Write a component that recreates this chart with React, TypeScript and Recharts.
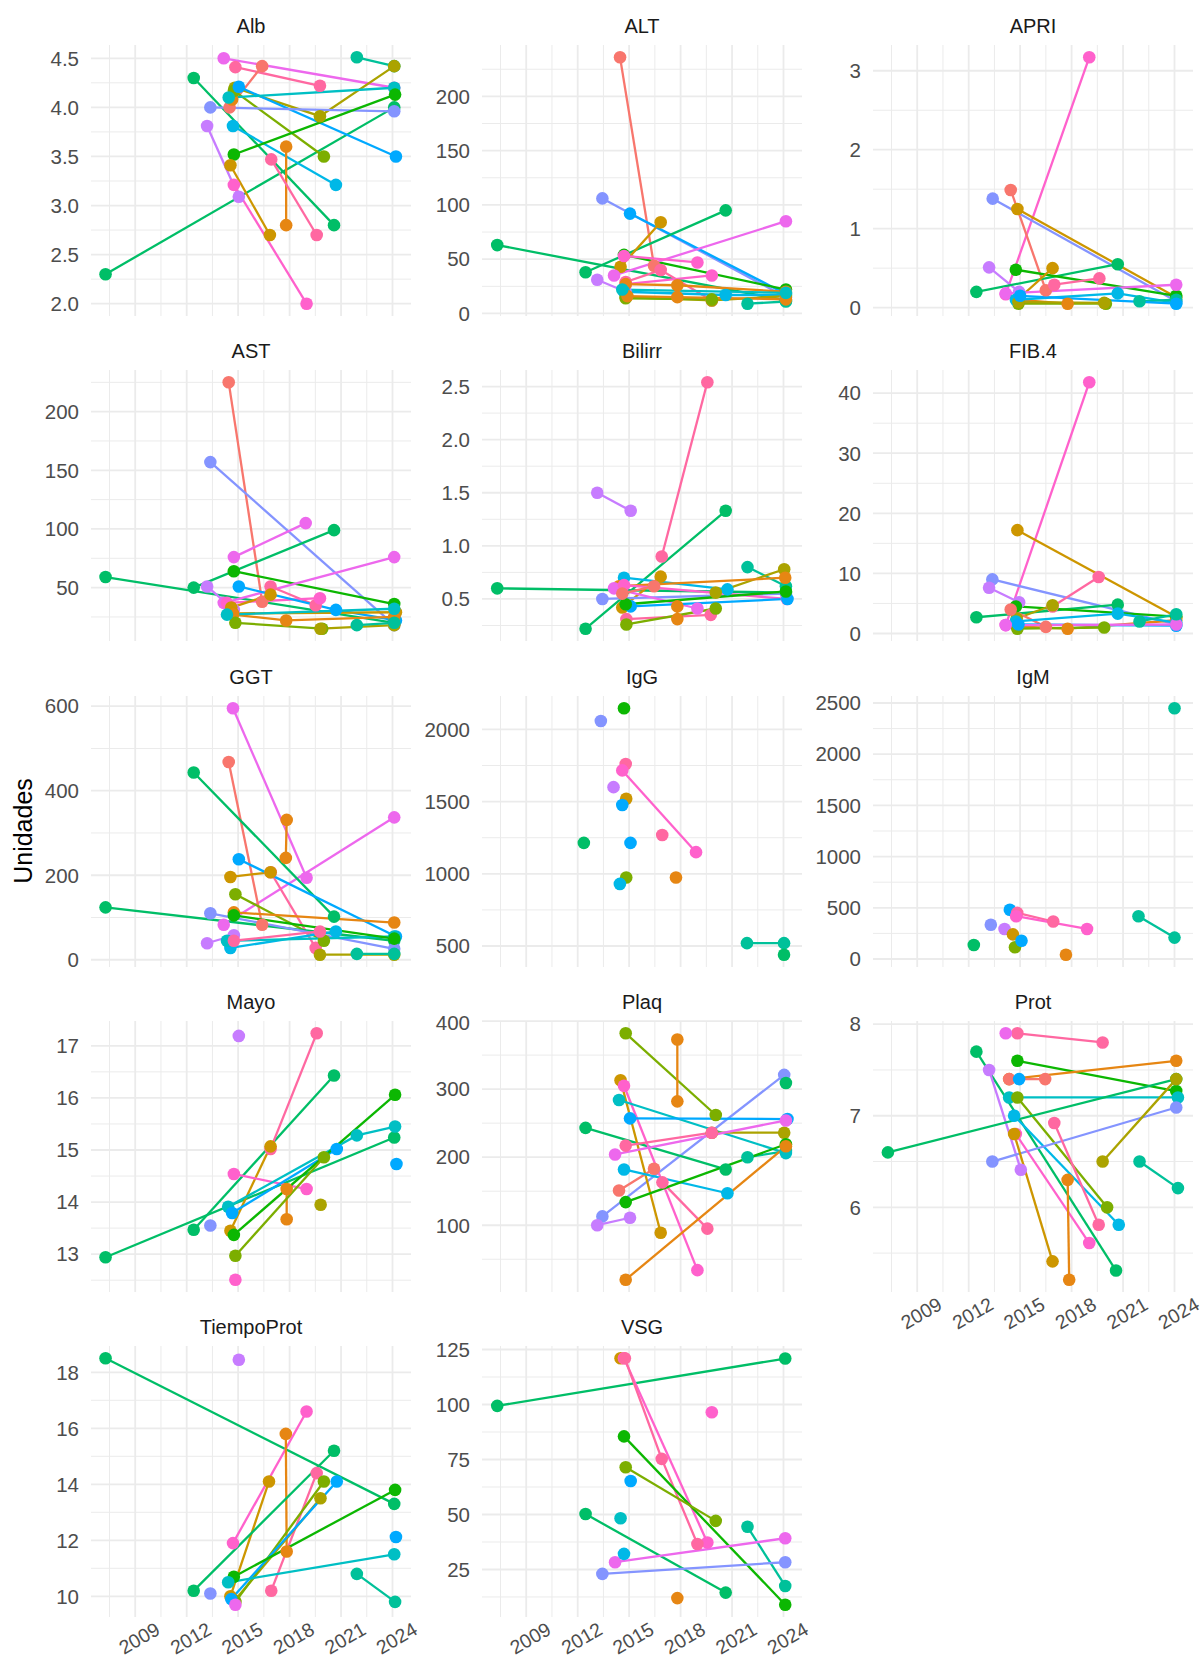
import React from 'react';
import { ScatterChart, Scatter, XAxis, YAxis, CartesianGrid } from 'recharts';

// ggplot2 default hue palette, 16 levels
const PALETTE = [
  '#F8766D', '#E68613', '#CD9600', '#ABA300', '#7CAE00', '#0CB702', '#00BE67', '#00C19A',
  '#00BFC4', '#00B8E7', '#00A9FF', '#8494FF', '#C77CFF', '#ED68ED', '#FF61CC', '#FF68A1',
];

type Pt = [number, number];
type Series = { c: number; p: Pt[] };

// one entry per patient: colour index + [year, value] visits
const albData: Series[] = [
  { c: 7, p: [[2021.92, 4.51], [2024.1, 4.42]] },
  { c: 13, p: [[2014.16, 4.5], [2024.1, 4.2]] },
  { c: 15, p: [[2014.84, 4.41], [2019.77, 4.22]] },
  { c: 0, p: [[2014.5, 4.0], [2016.4, 4.42]] },
  { c: 1, p: [[2014.65, 4.08]] },
  { c: 6, p: [[2012.41, 4.3], [2020.59, 2.8]] },
  { c: 6, p: [[2007.27, 2.3], [2024.1, 4.0]] },
  { c: 3, p: [[2014.8, 4.2], [2019.77, 3.91], [2024.1, 4.42]] },
  { c: 4, p: [[2014.75, 4.17], [2020.0, 3.5]] },
  { c: 10, p: [[2015.04, 4.21], [2024.2, 3.5]] },
  { c: 8, p: [[2014.45, 4.1], [2024.1, 4.2]] },
  { c: 9, p: [[2014.7, 3.81], [2020.7, 3.21]] },
  { c: 11, p: [[2013.38, 4.0], [2024.1, 3.96]] },
  { c: 12, p: [[2013.19, 3.81], [2015.04, 3.09]] },
  { c: 14, p: [[2014.75, 3.21], [2018.99, 2.0]] },
  { c: 5, p: [[2014.75, 3.52], [2024.15, 4.13]] },
  { c: 2, p: [[2014.55, 3.41], [2016.85, 2.7]] },
  { c: 1, p: [[2017.8, 3.6], [2017.8, 2.8]] },
  { c: 15, p: [[2016.93, 3.47], [2019.58, 2.7]] },
];

const altData: Series[] = [
  { c: 0, p: [[2014.47, 236], [2016.45, 44]] },
  { c: 11, p: [[2013.44, 106], [2024.14, 15]] },
  { c: 10, p: [[2015.05, 92], [2024.14, 18]] },
  { c: 6, p: [[2007.31, 63], [2024.14, 12]] },
  { c: 6, p: [[2012.46, 38], [2020.63, 95]] },
  { c: 5, p: [[2014.7, 54], [2024.14, 22]] },
  { c: 2, p: [[2014.5, 43], [2016.84, 84]] },
  { c: 13, p: [[2014.12, 35], [2024.14, 85]] },
  { c: 14, p: [[2014.7, 53], [2018.98, 47]] },
  { c: 12, p: [[2013.14, 31], [2014.8, 20]] },
  { c: 15, p: [[2014.8, 29], [2016.84, 40], [2019.82, 12]] },
  { c: 14, p: [[2014.8, 27], [2019.82, 35]] },
  { c: 1, p: [[2014.8, 27], [2017.81, 26], [2024.14, 20]] },
  { c: 9, p: [[2014.7, 20], [2020.63, 17], [2024.14, 17]] },
  { c: 7, p: [[2021.9, 9], [2024.14, 11]] },
  { c: 3, p: [[2014.8, 15], [2019.82, 12], [2024.14, 16]] },
  { c: 4, p: [[2014.8, 14], [2019.82, 13]] },
  { c: 1, p: [[2014.9, 16], [2017.81, 15], [2024.14, 13]] },
  { c: 8, p: [[2014.6, 22], [2024.14, 19]] },
];

const apriData: Series[] = [
  { c: 14, p: [[2014.16, 0.17], [2019.03, 3.17]] },
  { c: 0, p: [[2014.45, 1.49], [2016.5, 0.22]] },
  { c: 11, p: [[2013.4, 1.38], [2024.1, 0.08]] },
  { c: 2, p: [[2014.84, 1.25], [2024.1, 0.13]] },
  { c: 12, p: [[2013.19, 0.51], [2014.94, 0.2]] },
  { c: 6, p: [[2012.45, 0.2], [2020.69, 0.55]] },
  { c: 5, p: [[2014.75, 0.48], [2024.1, 0.15]] },
  { c: 2, p: [[2014.84, 0.1], [2016.89, 0.5]] },
  { c: 15, p: [[2016.99, 0.29], [2019.62, 0.37]] },
  { c: 13, p: [[2014.16, 0.18], [2024.1, 0.29]] },
  { c: 1, p: [[2014.8, 0.1], [2017.77, 0.05]] },
  { c: 4, p: [[2014.9, 0.05], [2020.0, 0.05]] },
  { c: 9, p: [[2014.75, 0.1], [2020.69, 0.18], [2024.1, 0.06]] },
  { c: 7, p: [[2021.96, 0.08], [2024.1, 0.1]] },
  { c: 3, p: [[2014.9, 0.07], [2019.9, 0.06]] },
  { c: 10, p: [[2015.0, 0.15], [2024.1, 0.05]] },
];

const astData: Series[] = [
  { c: 0, p: [[2014.45, 225], [2016.4, 38]] },
  { c: 11, p: [[2013.38, 157], [2024.1, 18]] },
  { c: 13, p: [[2014.75, 76], [2018.94, 105]] },
  { c: 6, p: [[2012.41, 50], [2020.59, 99]] },
  { c: 5, p: [[2014.75, 64], [2024.1, 36]] },
  { c: 6, p: [[2007.27, 59], [2024.1, 20]] },
  { c: 13, p: [[2014.16, 37], [2024.1, 76]] },
  { c: 15, p: [[2016.89, 51], [2019.52, 35]] },
  { c: 14, p: [[2014.35, 37], [2019.77, 41]] },
  { c: 12, p: [[2013.19, 51], [2014.75, 31]] },
  { c: 10, p: [[2015.04, 51], [2020.7, 31], [2024.2, 22]] },
  { c: 2, p: [[2014.6, 33], [2016.89, 44]] },
  { c: 2, p: [[2014.7, 28], [2024.2, 29]] },
  { c: 1, p: [[2014.7, 27], [2017.8, 22], [2024.1, 25]] },
  { c: 4, p: [[2014.84, 20], [2019.9, 15]] },
  { c: 3, p: [[2019.8, 15], [2024.1, 18]] },
  { c: 7, p: [[2021.92, 18], [2024.1, 20]] },
  { c: 8, p: [[2014.35, 27], [2024.1, 32]] },
];

const bilirrData: Series[] = [
  { c: 15, p: [[2016.9, 0.9], [2019.56, 2.54]] },
  { c: 12, p: [[2013.14, 1.5], [2015.09, 1.33]] },
  { c: 6, p: [[2012.46, 0.22], [2020.63, 1.33]] },
  { c: 6, p: [[2007.31, 0.6], [2024.14, 0.56]] },
  { c: 7, p: [[2021.9, 0.8], [2024.14, 0.62]] },
  { c: 9, p: [[2014.7, 0.7], [2020.73, 0.59]] },
  { c: 2, p: [[2014.6, 0.42], [2016.84, 0.71]] },
  { c: 3, p: [[2020.05, 0.56], [2024.04, 0.78]] },
  { c: 1, p: [[2014.41, 0.62], [2024.1, 0.7]] },
  { c: 11, p: [[2013.44, 0.5], [2024.14, 0.55]] },
  { c: 13, p: [[2014.12, 0.6], [2018.98, 0.41]] },
  { c: 14, p: [[2014.7, 0.63], [2024.2, 0.5]] },
  { c: 10, p: [[2015.09, 0.43], [2024.23, 0.5]] },
  { c: 1, p: [[2017.81, 0.43], [2017.81, 0.31]] },
  { c: 15, p: [[2014.84, 0.31], [2019.76, 0.35]] },
  { c: 4, p: [[2014.84, 0.26], [2020.05, 0.41]] },
  { c: 5, p: [[2014.8, 0.45], [2024.14, 0.57]] },
  { c: 0, p: [[2014.6, 0.55], [2016.45, 0.62]] },
];

const fib4Data: Series[] = [
  { c: 14, p: [[2014.16, 1.4], [2019.03, 41.8]] },
  { c: 2, p: [[2014.84, 17.2], [2024.1, 2.8]] },
  { c: 11, p: [[2013.38, 9.0], [2024.1, 1.5]] },
  { c: 12, p: [[2013.19, 7.6], [2014.94, 5.2]] },
  { c: 15, p: [[2016.89, 4.5], [2019.58, 9.4]] },
  { c: 6, p: [[2012.45, 2.7], [2020.69, 4.8]] },
  { c: 5, p: [[2014.75, 4.5], [2024.1, 2.8]] },
  { c: 3, p: [[2014.8, 2.5], [2016.89, 4.7]] },
  { c: 0, p: [[2014.45, 4.0], [2016.5, 1.1]] },
  { c: 1, p: [[2014.8, 1.2], [2017.77, 0.8], [2024.1, 2.2]] },
  { c: 4, p: [[2014.84, 0.8], [2019.9, 1.0]] },
  { c: 9, p: [[2014.75, 2.0], [2020.69, 3.3], [2024.1, 1.8]] },
  { c: 10, p: [[2014.9, 1.5], [2024.1, 1.3]] },
  { c: 13, p: [[2014.16, 1.4], [2024.1, 1.5]] },
  { c: 7, p: [[2021.96, 2.0], [2024.1, 3.2]] },
];

const ggtData: Series[] = [
  { c: 13, p: [[2014.7, 595], [2018.99, 194]] },
  { c: 13, p: [[2014.16, 83], [2024.1, 337]] },
  { c: 0, p: [[2014.45, 468], [2016.4, 83]] },
  { c: 6, p: [[2012.41, 443], [2020.59, 102]] },
  { c: 1, p: [[2017.83, 331], [2017.78, 241]] },
  { c: 15, p: [[2016.9, 207], [2019.52, 28]] },
  { c: 2, p: [[2014.55, 196], [2016.89, 207]] },
  { c: 10, p: [[2015.04, 238], [2024.2, 55]] },
  { c: 4, p: [[2014.84, 155], [2020.0, 45]] },
  { c: 1, p: [[2014.75, 112], [2024.1, 88]] },
  { c: 6, p: [[2007.27, 124], [2024.1, 45]] },
  { c: 11, p: [[2013.38, 110], [2024.1, 26]] },
  { c: 12, p: [[2013.19, 39], [2014.75, 58]] },
  { c: 9, p: [[2014.55, 28], [2020.7, 67]] },
  { c: 8, p: [[2014.35, 45], [2024.1, 55]] },
  { c: 15, p: [[2014.75, 45], [2019.77, 67]] },
  { c: 3, p: [[2019.77, 12], [2024.1, 12]] },
  { c: 7, p: [[2021.92, 14], [2024.1, 14]] },
  { c: 5, p: [[2014.75, 105], [2024.1, 50]] },
];

const iggData: Series[] = [
  { c: 11, p: [[2013.35, 2058]] },
  { c: 5, p: [[2014.7, 2146]] },
  { c: 15, p: [[2014.8, 1760]] },
  { c: 14, p: [[2014.6, 1716], [2018.9, 1150]] },
  { c: 12, p: [[2014.09, 1600]] },
  { c: 2, p: [[2014.83, 1520]] },
  { c: 10, p: [[2014.6, 1476]] },
  { c: 10, p: [[2015.08, 1214]] },
  { c: 6, p: [[2012.36, 1214]] },
  { c: 4, p: [[2014.83, 974]] },
  { c: 9, p: [[2014.46, 930]] },
  { c: 1, p: [[2017.73, 974]] },
  { c: 15, p: [[2016.93, 1269]] },
  { c: 7, p: [[2021.87, 520], [2024.03, 520]] },
  { c: 6, p: [[2024.03, 440]] },
];

const igmData: Series[] = [
  { c: 7, p: [[2024.0, 2448]] },
  { c: 6, p: [[2012.3, 136]] },
  { c: 11, p: [[2013.29, 335]] },
  { c: 12, p: [[2014.09, 293]] },
  { c: 10, p: [[2014.4, 481]] },
  { c: 15, p: [[2014.83, 450], [2016.93, 366]] },
  { c: 14, p: [[2014.77, 418], [2018.9, 293]] },
  { c: 2, p: [[2014.58, 240]] },
  { c: 4, p: [[2014.7, 115]] },
  { c: 10, p: [[2015.08, 178]] },
  { c: 1, p: [[2017.67, 42]] },
  { c: 7, p: [[2021.9, 418], [2024.0, 209]] },
];

const mayoData: Series[] = [
  { c: 6, p: [[2007.27, 12.94], [2024.1, 15.24]] },
  { c: 6, p: [[2012.41, 13.47], [2020.59, 16.43]] },
  { c: 15, p: [[2016.89, 15.02], [2019.58, 17.24]] },
  { c: 2, p: [[2014.55, 13.45], [2016.89, 15.07]] },
  { c: 12, p: [[2015.04, 17.19]] },
  { c: 14, p: [[2014.84, 12.51]] },
  { c: 14, p: [[2014.75, 14.54], [2018.99, 14.25]] },
  { c: 11, p: [[2013.38, 13.55]] },
  { c: 8, p: [[2014.42, 13.91], [2021.92, 15.28], [2024.15, 15.45]] },
  { c: 10, p: [[2014.65, 13.79], [2020.75, 15.02]] },
  { c: 10, p: [[2024.23, 14.73]] },
  { c: 1, p: [[2017.83, 14.25], [2017.83, 13.67]] },
  { c: 5, p: [[2014.75, 13.37], [2024.15, 16.06]] },
  { c: 4, p: [[2014.84, 12.97], [2020.0, 14.86]] },
  { c: 3, p: [[2019.81, 13.95]] },
];

const plaqData: Series[] = [
  { c: 4, p: [[2014.8, 382], [2020.05, 262]] },
  { c: 1, p: [[2017.81, 373], [2017.81, 282]] },
  { c: 11, p: [[2013.44, 113], [2024.04, 321]] },
  { c: 6, p: [[2024.14, 309]] },
  { c: 6, p: [[2012.46, 243], [2020.63, 182]] },
  { c: 7, p: [[2021.9, 200], [2024.14, 209]] },
  { c: 2, p: [[2014.5, 313], [2016.84, 89]] },
  { c: 14, p: [[2014.7, 305], [2018.98, 34]] },
  { c: 8, p: [[2014.41, 284], [2024.14, 206]] },
  { c: 10, p: [[2015.05, 257], [2024.23, 256]] },
  { c: 3, p: [[2019.82, 236], [2024.04, 236]] },
  { c: 15, p: [[2014.8, 217], [2019.82, 236]] },
  { c: 15, p: [[2016.94, 163], [2019.56, 95]] },
  { c: 13, p: [[2014.18, 204], [2024.14, 254]] },
  { c: 0, p: [[2014.41, 151], [2016.45, 183]] },
  { c: 9, p: [[2014.7, 182], [2020.73, 147]] },
  { c: 5, p: [[2014.8, 134], [2024.14, 219]] },
  { c: 12, p: [[2013.14, 100], [2015.05, 111]] },
  { c: 1, p: [[2014.8, 20], [2024.14, 216]] },
];

const protData: Series[] = [
  { c: 15, p: [[2014.84, 7.9], [2019.81, 7.8]] },
  { c: 13, p: [[2014.16, 7.9]] },
  { c: 6, p: [[2012.45, 7.7], [2020.59, 5.31]] },
  { c: 12, p: [[2013.19, 7.5], [2015.04, 6.41]] },
  { c: 5, p: [[2014.84, 7.6], [2024.1, 7.27]] },
  { c: 1, p: [[2014.36, 7.4], [2024.1, 7.6]] },
  { c: 0, p: [[2014.36, 7.4], [2016.46, 7.4]] },
  { c: 10, p: [[2014.94, 7.4]] },
  { c: 9, p: [[2014.65, 7.0], [2020.75, 5.81]] },
  { c: 8, p: [[2014.36, 7.2], [2024.2, 7.2]] },
  { c: 4, p: [[2014.84, 7.2], [2020.07, 6.0]] },
  { c: 6, p: [[2007.29, 6.6], [2024.1, 7.4]] },
  { c: 11, p: [[2013.38, 6.5], [2024.1, 7.09]] },
  { c: 14, p: [[2014.75, 6.8], [2019.03, 5.61]] },
  { c: 2, p: [[2014.65, 6.8], [2016.89, 5.41]] },
  { c: 1, p: [[2017.77, 6.3], [2017.86, 5.21]] },
  { c: 15, p: [[2016.99, 6.92], [2019.58, 5.81]] },
  { c: 3, p: [[2019.81, 6.5], [2024.1, 7.4]] },
  { c: 7, p: [[2021.96, 6.5], [2024.2, 6.21]] },
];

const tiempoData: Series[] = [
  { c: 6, p: [[2007.27, 18.5], [2024.1, 13.3]] },
  { c: 12, p: [[2015.04, 18.45]] },
  { c: 14, p: [[2014.7, 11.9], [2018.99, 16.6]] },
  { c: 1, p: [[2017.78, 15.8], [2017.83, 11.6]] },
  { c: 2, p: [[2014.55, 10.0], [2016.8, 14.1]] },
  { c: 6, p: [[2012.41, 10.2], [2020.59, 15.2]] },
  { c: 15, p: [[2016.93, 10.2], [2019.58, 14.4]] },
  { c: 3, p: [[2014.8, 9.85], [2019.8, 13.5]] },
  { c: 4, p: [[2014.84, 9.8], [2020.0, 14.1]] },
  { c: 10, p: [[2014.6, 9.9], [2020.75, 14.1]] },
  { c: 10, p: [[2024.2, 12.12]] },
  { c: 5, p: [[2014.75, 10.7], [2024.15, 13.8]] },
  { c: 8, p: [[2014.42, 10.5], [2024.1, 11.5]] },
  { c: 7, p: [[2021.92, 10.8], [2024.15, 9.8]] },
  { c: 11, p: [[2013.38, 10.1]] },
  { c: 13, p: [[2014.84, 9.7]] },
];

const vsgData: Series[] = [
  { c: 6, p: [[2007.31, 99.4], [2024.1, 120.9]] },
  { c: 2, p: [[2014.5, 121]] },
  { c: 14, p: [[2014.7, 121], [2019.56, 37.3]] },
  { c: 15, p: [[2014.75, 121], [2016.9, 75.3], [2018.98, 36.6]] },
  { c: 14, p: [[2019.82, 96.5]] },
  { c: 5, p: [[2014.7, 85.5], [2024.1, 9]] },
  { c: 4, p: [[2014.8, 71.5], [2020.05, 47.1]] },
  { c: 10, p: [[2015.09, 65.2]] },
  { c: 6, p: [[2012.46, 50.2], [2020.63, 14.5]] },
  { c: 8, p: [[2014.5, 48.3]] },
  { c: 7, p: [[2021.9, 44.4], [2024.1, 17.5]] },
  { c: 13, p: [[2014.18, 28.3], [2024.1, 39.2]] },
  { c: 9, p: [[2014.7, 32.1]] },
  { c: 11, p: [[2013.44, 23], [2024.1, 28.3]] },
  { c: 1, p: [[2017.81, 12]] },
];

const X_TICKS = [2009, 2012, 2015, 2018, 2021, 2024];

const PANELS = [
  { title: 'Alb', data: albData, ticks: [2, 2.5, 3, 3.5, 4, 4.5], digits: 1 },
  { title: 'ALT', data: altData, ticks: [0, 50, 100, 150, 200], digits: 0 },
  { title: 'APRI', data: apriData, ticks: [0, 1, 2, 3], digits: 0 },
  { title: 'AST', data: astData, ticks: [50, 100, 150, 200], digits: 0 },
  { title: 'Bilirr', data: bilirrData, ticks: [0.5, 1, 1.5, 2, 2.5], digits: 1 },
  { title: 'FIB.4', data: fib4Data, ticks: [0, 10, 20, 30, 40], digits: 0 },
  { title: 'GGT', data: ggtData, ticks: [0, 200, 400, 600], digits: 0 },
  { title: 'IgG', data: iggData, ticks: [500, 1000, 1500, 2000], digits: 0 },
  { title: 'IgM', data: igmData, ticks: [0, 500, 1000, 1500, 2000, 2500], digits: 0 },
  { title: 'Mayo', data: mayoData, ticks: [13, 14, 15, 16, 17], digits: 0 },
  { title: 'Plaq', data: plaqData, ticks: [100, 200, 300, 400], digits: 0 },
  { title: 'Prot', data: protData, ticks: [6, 7, 8], digits: 0 },
  { title: 'TiempoProt', data: tiempoData, ticks: [10, 12, 14, 16, 18], digits: 0 },
  { title: 'VSG', data: vsgData, ticks: [25, 50, 75, 100, 125], digits: 0 },
];

// layout (px)
const PLOT_W = 320;
const PLOT_H = 271;
const COL_LEFT = [91, 482, 873];
const ROW_TOP = [45, 370, 696, 1021, 1346];
const YAXIS_W = 80;
const M = 10;
const X_AXIS_H = 50;

const expand = (vals: number[]): [number, number] => {
  const lo = Math.min(...vals);
  const hi = Math.max(...vals);
  const pad = (hi - lo) * 0.05;
  return [lo - pad, hi + pad];
};

const allYears = PANELS.flatMap((p) => p.data.flatMap((s) => s.p.map((q) => q[0])));
const X_DOM = expand(allYears);

const minorBreaks = (ticks: number[], dom: [number, number]) => {
  const step = ticks[1] - ticks[0];
  const ext = [ticks[0] - step, ...ticks, ticks[ticks.length - 1] + step];
  const out: number[] = [];
  for (let i = 0; i < ext.length - 1; i++) {
    const m = (ext[i] + ext[i + 1]) / 2;
    if (m > dom[0] && m < dom[1]) out.push(m);
  }
  return out;
};

const X_MINOR = minorBreaks(X_TICKS, X_DOM);

const XTick = (props: any) => {
  const { x, y, payload } = props;
  const cx = x + 4;
  const cy = y + 21;
  return (
    <text
      x={cx}
      y={cy}
      textAnchor="middle"
      dominantBaseline="central"
      fontSize={19.5}
      fill="#4D4D4D"
      transform={`rotate(-30 ${cx} ${cy})`}
    >
      {payload.value}
    </text>
  );
};

const Panel = ({ cfg, col, row, showX }: { cfg: any; col: number; row: number; showX: boolean }) => {
  const yDom = expand(cfg.data.flatMap((s: Series) => s.p.map((q) => q[1])));
  const yPix = (v: number) => M + ((yDom[1] - v) / (yDom[1] - yDom[0])) * PLOT_H;
  const xPix = (v: number) => YAXIS_W + ((v - X_DOM[0]) / (X_DOM[1] - X_DOM[0])) * PLOT_W;
  const yMinor = minorBreaks(cfg.ticks, yDom);
  const chartH = M + PLOT_H + (showX ? X_AXIS_H : M);
  const series = cfg.data.map((s: Series) => ({ color: PALETTE[s.c], pts: s.p.map(([x, y]) => ({ x, y })) }));

  return (
    <>
      <div
        style={{
          position: 'absolute',
          left: COL_LEFT[col],
          top: ROW_TOP[row] - 29,
          width: PLOT_W,
          textAlign: 'center',
          fontSize: 20,
          lineHeight: '20px',
          color: '#1A1A1A',
        }}
      >
        {cfg.title}
      </div>
      <div style={{ position: 'absolute', left: COL_LEFT[col] - YAXIS_W, top: ROW_TOP[row] - M }}>
        <ScatterChart
          width={YAXIS_W + PLOT_W + M}
          height={chartH}
          margin={{ top: M, right: M, bottom: showX ? 0 : M, left: 0 }}
        >
          <CartesianGrid
            horizontalPoints={yMinor.map(yPix)}
            verticalPoints={X_MINOR.map(xPix)}
            stroke="#EBEBEB"
            strokeWidth={1}
          />
          <CartesianGrid
            horizontalPoints={cfg.ticks.map(yPix)}
            verticalPoints={X_TICKS.map(xPix)}
            stroke="#EBEBEB"
            strokeWidth={1.8}
          />
          <XAxis
            type="number"
            dataKey="x"
            domain={X_DOM}
            ticks={X_TICKS}
            hide={!showX}
            height={X_AXIS_H}
            axisLine={false}
            tickLine={false}
            tickSize={0}
            tickMargin={0}
            tick={<XTick />}
            allowDataOverflow
          />
          <YAxis
            type="number"
            dataKey="y"
            domain={yDom}
            ticks={cfg.ticks}
            width={YAXIS_W}
            axisLine={false}
            tickLine={false}
            tickMargin={6}
            tick={{ fontSize: 20.5, fill: '#4D4D4D' }}
            tickFormatter={(v: number) => v.toFixed(cfg.digits)}
            allowDataOverflow
          />
          {series.map((s: any, i: number) => (
            <Scatter
              key={`l${i}`}
              data={s.pts}
              fill={s.color}
              line={{ stroke: s.color, strokeWidth: 2.3 }}
              lineType="joint"
              shape={() => <g />}
              isAnimationActive={false}
            />
          ))}
          {series.map((s: any, i: number) => (
            <Scatter
              key={`p${i}`}
              data={s.pts}
              fill={s.color}
              shape={(p: any) => <circle cx={p.cx} cy={p.cy} r={6.3} fill={s.color} />}
              isAnimationActive={false}
            />
          ))}
        </ScatterChart>
      </div>
    </>
  );
};

export default function App() {
  return (
    <div
      style={{
        position: 'relative',
        width: 1203,
        height: 1657,
        background: '#FFFFFF',
        fontFamily: '"Liberation Sans", Arial, sans-serif',
        overflow: 'hidden',
      }}
    >
      <style>{'body{margin:0}'}</style>
      {PANELS.map((cfg, i) => {
        const row = Math.floor(i / 3);
        const col = i % 3;
        const showX = row === 4 || (row === 3 && col === 2);
        return <Panel key={cfg.title} cfg={cfg} col={col} row={row} showX={showX} />;
      })}
      <div
        style={{
          position: 'absolute',
          left: 23,
          top: 831,
          transform: 'translate(-50%, -50%) rotate(-90deg)',
          fontSize: 25,
          color: '#000000',
          whiteSpace: 'nowrap',
        }}
      >
        Unidades
      </div>
    </div>
  );
}
